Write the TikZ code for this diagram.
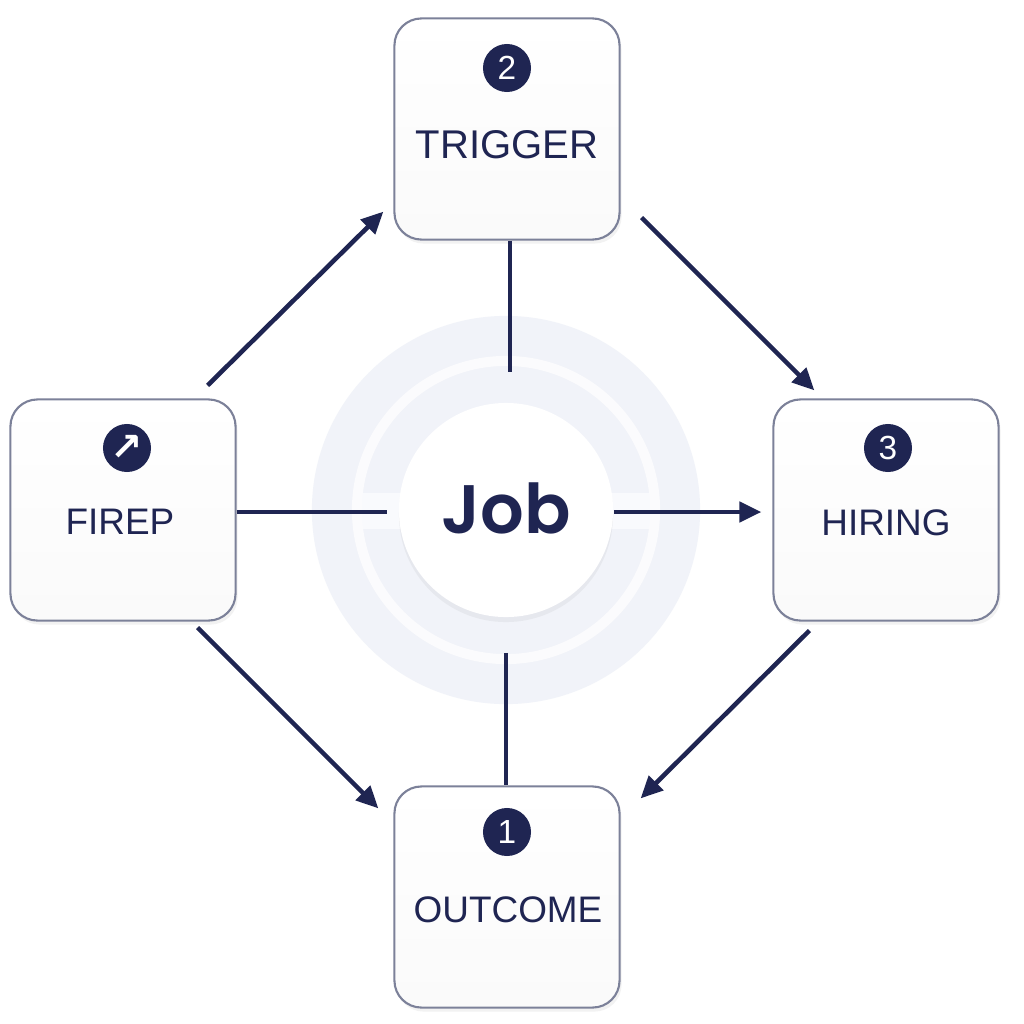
\documentclass[tikz,border=0pt]{standalone}
\usepackage{fontspec}
\setmainfont{Liberation Sans}
\newfontfamily\jobfont{Poppins SemiBold}
\newfontfamily\symfont{DejaVu Sans}
\usetikzlibrary{shadows,arrows.meta}
\definecolor{navy}{HTML}{1F2552}
\definecolor{edgegray}{HTML}{7C8199}
\definecolor{ringc}{HTML}{F1F3F9}
\tikzset{
  card/.style={draw=edgegray, line width=0.6pt, rounded corners=0.27cm,
    minimum width=2.25cm, minimum height=2.21cm, top color=white, bottom color=black!2,
    drop shadow={opacity=0.10, shadow xshift=0.02cm, shadow yshift=-0.04cm}},
  badge/.style={circle, fill=navy, minimum size=0.48cm, inner sep=0pt, text=white,
    font=\fontsize{9.5}{10}\selectfont},
  cardtext/.style={text=navy, font=\fontsize{10.5}{12}\selectfont, inner sep=0pt},
  link/.style={draw=navy, line width=1.3pt},
  arr/.style={link, -{Triangle[length=0.22cm,width=0.2cm]}},
}
\begin{document}
\begin{tikzpicture}[x=0.01cm,y=-0.01cm]
\useasboundingbox (0,0) rectangle (1024,1024);
\fill[white] (0,0) rectangle (1024,1024);
% rings
\fill[ringc] (506,510) circle[radius=1.94cm];
\fill[white!60!ringc] (355,493) rectangle (657,529);
\draw[white!70!ringc, line width=0.1cm] (506,510) circle[radius=1.49cm];
% cards
\node[card] (trig) at (507,129) {};
\node[badge] (b2) at (507,68) {2};
\node[cardtext, font=\fontsize{11.4}{13}\selectfont] (t2) at (507,145) {TRIGGER};
\node[card] (firep) at (123,510) {};
\node[badge, font=\symfont\fontsize{11}{12}\selectfont\bfseries] (bf) at (127,448) {↗};
\node[cardtext] (tf) at (120,522) {FIREP};
\node[card] (hire) at (886,510) {};
\node[badge] (b3) at (888,448) {3};
\node[cardtext] (th) at (886,523) {HIRING};
\node[card] (out) at (507,897) {};
\node[badge] (b1) at (507,832) {1};
\node[cardtext] (to) at (508,910) {OUTCOME};
% job
\node[circle, fill=white, minimum size=2.14cm, inner sep=0pt,
  drop shadow={opacity=0.09, shadow xshift=0cm, shadow yshift=-0.05cm}] (job) at (506,510) {};
\node[text=navy, font=\jobfont\fontsize{19.5}{22}\selectfont] (jt) at (506,508) {Job};
% connectors
\draw[link, shorten >=0.3cm] (trig.south -| 510,0) -- (job.north -| 510,0);
\draw[link, shorten >=0.11cm] ([yshift=-0.02cm]firep.east) -- ([yshift=-0.02cm]firep.east -| job.west);
\draw[arr, shorten >=0.11cm] ([yshift=-0.02cm]job.east) -- ([yshift=-0.02cm]job.east -| hire.west);
\draw[link, shorten <=0.35cm] (job.south) -- (out.north -| job.south);
\draw[arr] ([shift={(-29,-13)}]firep.north east) -- ([shift={(-10,-29)}]trig.south west);
\draw[arr] ([shift={(21,-23)}]trig.south east) -- ([shift={(42,-8)}]hire.north west);
\draw[arr] ([shift={(-39,6)}]firep.south east) -- ([shift={(-15,23)}]out.north west);
\draw[arr] ([shift={(37,9)}]hire.south west) -- ([shift={(20,13)}]out.north east);
\end{tikzpicture}
\end{document}
